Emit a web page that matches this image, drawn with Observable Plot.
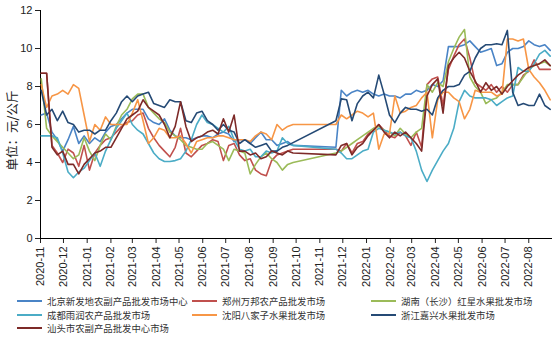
<!DOCTYPE html>
<html><head><meta charset="utf-8">
<script src="https://cdn.jsdelivr.net/npm/d3@7"></script>
<script src="https://cdn.jsdelivr.net/npm/@observablehq/plot@0.6"></script>
<style>
body{margin:0;background:#fff;font-family:"Liberation Sans","Noto Sans CJK SC",sans-serif;}
#chart{position:relative;width:554px;height:339px;overflow:hidden;}
.lg{position:absolute;display:flex;align-items:center;font-family:"Noto Sans CJK SC",sans-serif;font-size:9.4px;color:#333;white-space:nowrap;}
.lg span.sw{display:inline-block;width:25px;height:2px;margin-right:5px;}
</style></head><body><div id="chart"></div>
<script>
// weekly observation dates, first week
const firstWeek = "2020-11-02";
const nWeeks = 96;
// month tick labels
const monthTicks = ["2020-11","2020-12","2021-01","2021-02","2021-03","2021-04","2021-05","2021-06","2021-07","2021-08","2021-09","2021-10","2021-11","2021-12","2022-01","2022-02","2022-03","2022-04","2022-05","2022-06","2022-07","2022-08"];
const yTicks = [0,2,4,6,8,10,12];
const yLabel = "单位：元/公斤";

const names = ["北京新发地农副产品批发市场中心","郑州万邦农产品批发市场","湖南（长沙）红星水果批发市场","成都雨润农产品批发市场","沈阳八家子水果批发市场","浙江嘉兴水果批发市场","汕头市农副产品批发中心市场"];
const colors = ["#4a84c6","#c0504d","#9bbb59","#4bacc6","#f79646","#254a75","#7d2a28"];

const _ = null;
const beijing = [6.5,6.6,5.6,5.2,4.6,5.2,5.9,5.0,5.4,5.0,5.3,5.1,5.6,5.9,6.0,6.3,6.6,6.8,6.8,6.8,6.3,6.1,6.0,6.3,5.7,5.4,5.3,5.3,5.2,5.3,5.4,5.4,5.3,5.5,5.6,5.5,5.1,5.2,5.2,5.0,5.3,5.6,5.2,5.2,4.9,5.0,5.1,4.9,_,_,_,_,_,_,_,4.8,7.8,7.5,7.7,7.8,7.7,7.8,7.6,7.5,7.6,7.5,7.5,7.4,7.6,7.6,7.8,7.7,7.8,8.1,8.0,8.3,10.1,10.1,10.1,10.2,10.4,10.1,9.8,9.9,10.0,9.1,9.2,9.8,10.0,10.0,10.1,10.4,10.2,10.1,10.2,9.9];
const zhengzhou = [8.7,8.7,4.9,4.5,4.0,4.7,4.5,3.8,4.9,3.6,4.5,4.9,5.2,5.3,5.6,5.9,6.1,6.2,6.5,6.6,5.8,5.3,4.9,4.6,4.3,4.8,5.8,4.5,4.3,4.6,4.9,5.0,5.2,5.1,4.1,4.9,5.0,4.4,4.1,4.2,3.6,3.4,3.3,4.1,4.4,4.5,4.6,4.7,_,_,_,_,_,_,_,4.7,4.6,5.0,4.5,5.0,5.1,5.5,5.7,6.0,5.7,5.4,5.3,5.6,5.4,4.9,5.6,4.8,8.1,8.4,8.5,7.0,8.9,9.6,10.2,10.5,9.5,8.2,8.0,7.8,8.1,7.7,8.0,7.7,8.1,8.1,8.6,8.8,9.4,8.9,8.9,8.9];
const hunan = [8.4,5.8,5.4,5.1,4.8,4.5,4.2,4.4,5.3,4.6,4.1,4.9,5.5,5.2,5.9,6.5,6.8,7.35,7.6,7.6,6.9,6.6,6.3,6.1,5.6,5.4,5.2,4.9,4.8,4.7,4.7,5.0,5.1,4.9,4.7,4.1,4.7,4.6,4.5,3.4,3.9,4.3,4.5,4.2,4.0,3.6,3.9,4.0,_,_,_,_,_,_,_,4.5,4.6,4.8,5.0,5.2,5.4,5.6,5.8,5.9,5.7,5.6,5.4,5.8,5.5,5.3,5.6,5.8,8.1,7.7,8.2,8.0,9.3,10.0,10.6,11.0,8.5,8.0,7.7,7.1,7.3,7.4,7.7,8.1,8.1,8.1,8.5,8.9,9.1,9.2,9.3,9.1];
const chengdu = [5.4,5.4,5.4,5.3,4.5,3.5,3.2,3.5,3.7,4.1,4.5,3.8,4.6,5.2,5.8,6.2,6.6,6.0,5.7,5.5,5.0,4.5,4.2,4.05,4.05,4.1,4.2,4.6,5.2,6.0,6.5,6.1,6.0,5.8,5.6,5.9,5.2,4.7,4.6,4.7,4.3,4.3,4.6,4.5,4.6,5.3,5.0,4.9,_,_,_,_,_,_,_,4.7,4.5,4.2,4.2,4.4,4.6,4.7,5.6,5.8,5.7,5.6,5.5,5.6,5.4,5.3,4.6,3.6,3.0,3.6,4.1,4.6,5.0,5.8,7.2,7.8,7.5,7.4,7.4,7.4,7.3,7.0,7.2,7.4,7.5,9.0,8.8,8.8,9.2,9.7,9.9,9.6];
const shenyang = [8.1,6.9,7.5,7.6,7.8,7.6,8.1,7.9,6.5,5.1,6.0,5.7,6.4,6.0,6.0,6.0,6.0,6.6,7.3,6.2,5.0,5.3,5.8,5.7,5.3,5.3,5.4,5.0,4.5,5.1,5.2,5.3,5.3,5.4,5.4,5.3,5.2,5.2,5.2,5.1,5.4,5.6,5.5,5.2,6.0,5.7,5.9,6.0,_,_,_,_,_,_,_,6.0,6.5,6.3,6.5,6.7,6.6,6.4,6.6,4.7,5.5,5.5,7.5,6.6,6.7,6.9,7.0,7.4,7.7,5.3,7.3,7.7,7.7,7.4,7.2,6.3,6.8,7.8,7.7,7.7,7.7,7.5,7.6,10.5,10.5,10.4,10.5,8.9,8.5,8.2,7.8,7.3];
const zhejiang = [7.8,6.5,6.8,6.2,6.7,6.1,6.0,5.6,5.7,5.7,5.5,5.7,5.7,6.2,6.6,7.2,7.5,7.2,7.5,7.6,7.7,7.1,7.0,6.9,7.3,7.2,7.2,6.2,6.1,6.6,6.7,6.2,6.0,5.7,6.0,5.7,5.6,5.0,5.2,5.0,4.8,4.9,5.0,4.6,4.6,4.8,4.9,_,_,_,_,_,_,_,_,6.2,7.35,7.3,6.2,7.1,7.5,7.7,7.4,8.6,7.6,6.5,6.1,6.6,6.9,6.8,6.8,6.7,6.8,6.5,7.4,7.8,8.0,8.0,8.1,8.6,8.8,9.5,10.0,10.2,10.2,10.25,10.2,10.95,7.7,7.0,7.1,7.0,7.0,7.6,7.0,6.8];
const shantou = [8.7,8.7,4.8,4.4,4.6,3.9,3.9,3.4,3.9,4.2,4.5,4.6,4.8,4.8,5.3,5.8,6.3,6.5,6.7,7.3,6.9,6.7,6.5,6.0,5.3,5.9,7.2,5.9,5.1,5.3,5.4,5.6,5.7,5.5,6.3,5.6,6.5,4.6,4.6,4.4,4.5,4.2,4.3,4.6,4.5,4.4,4.6,4.5,_,_,_,_,_,_,_,4.4,4.9,5.0,4.4,4.8,5.0,5.4,5.7,6.0,5.6,5.3,5.6,5.4,5.6,5.3,5.0,4.6,7.5,8.1,8.4,6.6,9.1,9.5,9.8,9.5,8.8,8.3,7.7,8.2,7.8,8.0,7.6,8.0,8.3,8.6,8.8,9.0,9.1,9.2,9.4,9.1];

const seriesValues = [beijing, zhengzhou, hunan, chengdu, shenyang, zhejiang, shantou];
const start = new Date(firstWeek + "T00:00:00Z");
const dates = d3.range(nWeeks).map(i => d3.utcDay.offset(start, 7 * i));
const data = [];
seriesValues.forEach((vals, s) => {
  vals.forEach((v, i) => { if (v != null) data.push({date: dates[i], value: v, series: names[s]}); });
});
const tickDates = monthTicks.map(t => new Date(t + "-01T00:00:00Z"));
const x0 = new Date("2020-11-01T00:00:00Z"), x1 = new Date("2022-09-01T00:00:00Z");

const chart = Plot.plot({
  width: 554, height: 294,
  marginLeft: 40, marginRight: 2, marginTop: 10, marginBottom: 56,
  style: {fontFamily: '"Liberation Sans","Noto Sans CJK SC",sans-serif', fontSize: "11px", color: "#222", background: "#fff"},
  x: {type: "utc", domain: [x0, x1], ticks: tickDates, tickFormat: d3.utcFormat("%Y-%m"), tickRotate: -90, tickSize: 5, tickPadding: 3, label: null},
  y: {domain: [0, 12], ticks: yTicks, tickSize: 5, tickPadding: 3, label: null},
  color: {domain: names, range: colors},
  marks: [
    Plot.ruleY([0], {stroke: "#000"}),
    Plot.ruleX([x0], {stroke: "#000"}),
    Plot.line(data, {x: "date", y: "value", z: "series", stroke: "series", strokeWidth: 1.6, strokeLinejoin: "round"}),
    Plot.text([yLabel], {frameAnchor: "left", textAnchor: "middle", rotate: -90, dx: -28, dy: 6, fontSize: 12.5, fill: "#222", fontFamily: '"Noto Sans CJK SC",sans-serif'})
  ]
});
const root = document.getElementById("chart");
root.appendChild(chart);

const legendPos = [[17,301],[192,301],[371,301],[17,315],[192,315],[371,315],[17,328]];
names.forEach((n, i) => {
  const d = document.createElement("div");
  d.className = "lg";
  d.style.left = legendPos[i][0] + "px";
  d.style.top = (legendPos[i][1] - 7) + "px";
  d.style.height = "14px";
  const sw = document.createElement("span");
  sw.className = "sw";
  sw.style.background = colors[i];
  d.appendChild(sw);
  const t = document.createElement("span");
  t.textContent = n;
  d.appendChild(t);
  root.appendChild(d);
});
</script></body></html>
